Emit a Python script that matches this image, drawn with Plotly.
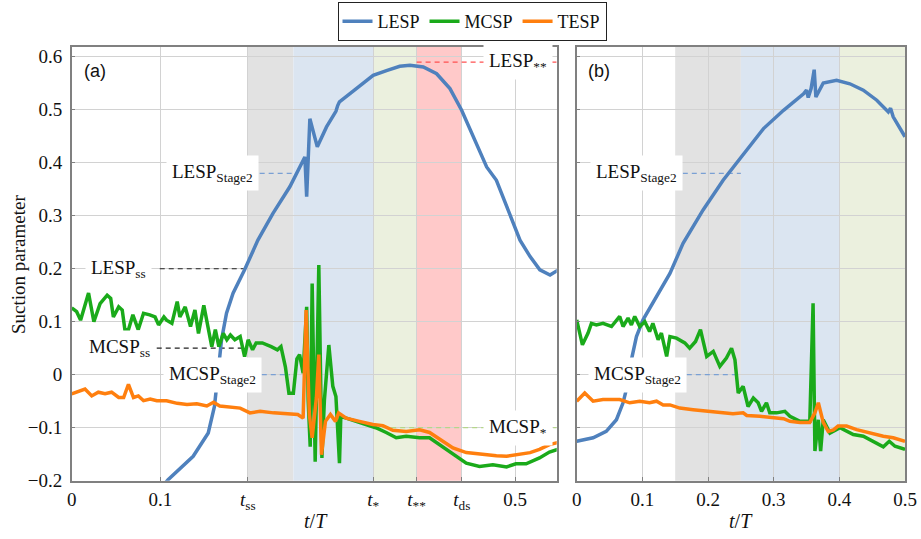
import plotly.graph_objects as go

# ---------------- data ----------------
# Panel (a)
t_lesp_a = [0.07, 0.09, 0.1087, 0.137, 0.154, 0.161, 0.165, 0.169, 0.1746, 0.182, 0.195, 0.210, 0.227,
            0.246, 0.263, 0.265, 0.2686, 0.277, 0.2874, 0.298, 0.300, 0.302, 0.321, 0.340, 0.355, 0.370,
            0.3815, 0.3965, 0.4116, 0.4266, 0.4398, 0.453, 0.468, 0.479, 0.4906, 0.5056, 0.517, 0.528,
            0.5395, 0.549]
lesp_a = [-0.27, -0.235, -0.198, -0.154, -0.110, -0.060, 0.003, 0.066, 0.116, 0.154, 0.198, 0.254, 0.3045,
          0.3546, 0.411, 0.336, 0.483, 0.430, 0.4676, 0.497, 0.508, 0.515, 0.540, 0.565, 0.574, 0.582,
          0.584, 0.5806, 0.568, 0.540, 0.499, 0.449, 0.392, 0.367, 0.317, 0.254, 0.223, 0.198,
          0.188, 0.198]

t_mcsp_a = [0.0, 0.0056, 0.010, 0.019, 0.025, 0.032, 0.040, 0.044, 0.047, 0.053, 0.057, 0.060, 0.064,
            0.069, 0.075, 0.081, 0.088, 0.094, 0.098, 0.104, 0.107, 0.113, 0.119, 0.122, 0.128, 0.134,
            0.139, 0.143, 0.149, 0.153, 0.158, 0.162, 0.166, 0.171, 0.175, 0.179, 0.184, 0.190, 0.195,
            0.199, 0.204, 0.208, 0.215, 0.225, 0.232, 0.236, 0.241, 0.245, 0.250, 0.254, 0.257, 0.261,
            0.265, 0.2667, 0.269, 0.2712, 0.2746, 0.2787, 0.2822, 0.285, 0.290, 0.2945, 0.298, 0.302,
            0.3035, 0.3096, 0.3209, 0.332, 0.343, 0.3547, 0.366, 0.3773, 0.3924, 0.4036, 0.415, 0.430,
            0.445, 0.460, 0.475, 0.4905, 0.501, 0.5125, 0.5276, 0.5388, 0.548]
mcsp_a = [0.126, 0.119, 0.103, 0.154, 0.100, 0.134, 0.150, 0.144, 0.109, 0.128, 0.122, 0.085, 0.085,
          0.113, 0.085, 0.116, 0.113, 0.109, 0.094, 0.109, 0.103, 0.097, 0.138, 0.109, 0.128, 0.091,
          0.122, 0.078, 0.131, 0.094, 0.053, 0.085, 0.053, 0.078, 0.066, 0.075, 0.066, 0.072, 0.034,
          0.066, 0.047, 0.060, 0.060, 0.053, 0.047, 0.053, 0.015, -0.035, -0.035, 0.030, 0.038, 0.003,
          0.128, -0.048, -0.136, 0.172, -0.164, 0.207, -0.157, -0.048, 0.056, -0.022, -0.041, -0.167,
          -0.079, -0.082, -0.088, -0.094, -0.100, -0.109, -0.119, -0.116, -0.119, -0.119, -0.132, -0.151,
          -0.167, -0.173, -0.170, -0.174, -0.168, -0.168, -0.157, -0.146, -0.141]

t_tesp_a = [0.0, 0.0094, 0.015, 0.0226, 0.030, 0.0376, 0.045, 0.053, 0.0586, 0.064, 0.0697, 0.0752, 0.081,
            0.0885, 0.096, 0.107, 0.119, 0.130, 0.1411, 0.1524, 0.160, 0.167, 0.179, 0.190, 0.201, 0.2125,
            0.2276, 0.2426, 0.255, 0.261, 0.2644, 0.268, 0.2712, 0.276, 0.2787, 0.2817, 0.2862, 0.2918,
            0.2975, 0.301, 0.3096, 0.3246, 0.3397, 0.351, 0.3622, 0.3773, 0.3924, 0.4036, 0.415, 0.430,
            0.445, 0.464, 0.479, 0.4905, 0.501, 0.517, 0.5276, 0.5388, 0.548]
tesp_a = [-0.036, -0.030, -0.027, -0.040, -0.033, -0.036, -0.033, -0.043, -0.043, -0.018, -0.043, -0.040,
          -0.049, -0.046, -0.049, -0.049, -0.054, -0.056, -0.055, -0.059, -0.052, -0.059, -0.061, -0.063,
          -0.072, -0.069, -0.072, -0.074, -0.075, -0.082, 0.122, -0.075, -0.119, -0.043, 0.038, -0.151,
          -0.088, -0.075, -0.088, -0.072, -0.082, -0.088, -0.094, -0.096, -0.105, -0.107, -0.104, -0.109,
          -0.121, -0.138, -0.147, -0.151, -0.153, -0.154, -0.151, -0.147, -0.141, -0.132, -0.128]

# Panel (b)
t_lesp_b = [0.0, 0.025, 0.045, 0.0605, 0.0706, 0.078, 0.0833, 0.091, 0.101, 0.122, 0.142, 0.162, 0.1925,
            0.223, 0.254, 0.2845, 0.315, 0.3455, 0.350, 0.3526, 0.357, 0.3617, 0.3643, 0.3755, 0.3958,
            0.416, 0.4365, 0.457, 0.4746, 0.478, 0.482, 0.5]
lesp_b = [-0.1256, -0.119, -0.107, -0.085, -0.053, -0.016, 0.028, 0.072, 0.1036, 0.1475, 0.191, 0.248,
          0.311, 0.367, 0.4175, 0.4645, 0.499, 0.530, 0.537, 0.523, 0.540, 0.5756, 0.524, 0.5506, 0.5556,
          0.549, 0.537, 0.518, 0.496, 0.503, 0.4866, 0.449]

t_mcsp_b = [0.0, 0.0087, 0.0173, 0.0224, 0.030, 0.040, 0.053, 0.0655, 0.0706, 0.0782, 0.0833, 0.0884,
            0.096, 0.1037, 0.111, 0.116, 0.124, 0.129, 0.137, 0.142, 0.152, 0.1646, 0.172, 0.181, 0.1885,
            0.198, 0.208, 0.218, 0.228, 0.2358, 0.241, 0.246, 0.2535, 0.261, 0.269, 0.2764, 0.2815,
            0.289, 0.294, 0.3044, 0.317, 0.3247, 0.340, 0.355, 0.360, 0.3628, 0.368, 0.3715, 0.3755,
            0.3857, 0.401, 0.4212, 0.4365, 0.4517, 0.467, 0.476, 0.4848, 0.5]
mcsp_b = [0.1036, 0.0565, 0.0785, 0.097, 0.094, 0.097, 0.091, 0.110, 0.091, 0.107, 0.094, 0.110,
          0.091, 0.100, 0.0815, 0.097, 0.066, 0.0785, 0.0345, 0.072, 0.069, 0.060, 0.050, 0.0627, 0.085,
          0.0345, 0.044, 0.0157, 0.0314, 0.050, 0.028, -0.0345, -0.022, -0.060, -0.044, -0.053, -0.069,
          -0.053, -0.072, -0.072, -0.069, -0.0785, -0.088, -0.088, 0.135, -0.144, -0.085, -0.144, -0.085,
          -0.110, -0.100, -0.113, -0.116, -0.1256, -0.136, -0.1256, -0.135, -0.141]

t_tesp_b = [0.0, 0.0122, 0.025, 0.040, 0.0655, 0.0808, 0.096, 0.111, 0.1216, 0.1317, 0.142, 0.157,
            0.1773, 0.198, 0.218, 0.238, 0.2535, 0.259, 0.279, 0.299, 0.315, 0.3247, 0.340, 0.355,
            0.3628, 0.368, 0.3755, 0.383, 0.391, 0.398, 0.411, 0.4264, 0.4467, 0.467, 0.482, 0.5]
tesp_b = [-0.050, -0.0345, -0.050, -0.047, -0.047, -0.053, -0.050, -0.053, -0.050, -0.057, -0.057, -0.063,
          -0.066, -0.069, -0.071, -0.0735, -0.072, -0.077, -0.0785, -0.0815, -0.083, -0.088, -0.090, -0.090,
          -0.072, -0.053, -0.090, -0.107, -0.104, -0.097, -0.097, -0.1036, -0.110, -0.116, -0.119, -0.1256]

# Stage boundaries (t/T)
t_ss, t_stage2_a, t_star, t_2star, t_ds = 0.1986, 0.25, 0.340, 0.389, 0.44
bands_b = [0.15, 0.25, 0.40, 0.50]

# Reference levels
LESP_ss, MCSP_ss = 0.2, 0.05
LESP_stage2, MCSP_stage2 = 0.38, 0.0
LESP_2star, MCSP_star = 0.59, -0.1

y_ticks = [0.6, 0.5, 0.4, 0.3, 0.2, 0.1, 0.0, -0.1, -0.2]
y_ticktext = ["0.6", "0.5", "0.4", "0.3", "0.2", "0.1", "0", "\u22120.1", "\u22120.2"]
xa_ticks = [0, 0.1, t_ss, t_star, t_2star, t_ds, 0.5]
xa_ticktext = ["0", "0.1", "<i>t</i><sub>ss</sub>", "<i>t</i><sub>*</sub>", "<i>t</i><sub>**</sub>",
               "<i>t</i><sub>ds</sub>", "0.5"]
xb_ticks = [0, 0.1, 0.2, 0.3, 0.4, 0.5]
xb_ticktext = ["0", "0.1", "0.2", "0.3", "0.4", "0.5"]

# ---------------- style ----------------
C_LESP, C_MCSP, C_TESP = "#4f81bd", "#1aaa1a", "#ff7f0e"
SERIF = "Liberation Serif"
C_GRAY, C_BLUE, C_GREEN, C_RED = "#e2e2e2", "#dbe5f1", "#ebf0de", "#ffc9c9"
LW = 3.5

fig = go.Figure()

def add_series(xs, ys, name, color, xa, ya, show):
    fig.add_trace(go.Scatter(x=xs, y=ys, mode="lines", name=name, legendgroup=name, showlegend=show,
                             line=dict(color=color, width=LW), xaxis=xa, yaxis=ya))

add_series(t_lesp_a, lesp_a, "LESP", C_LESP, "x", "y", True)
add_series(t_mcsp_a, mcsp_a, "MCSP", C_MCSP, "x", "y", True)
add_series(t_tesp_a, tesp_a, "TESP", C_TESP, "x", "y", True)
add_series(t_lesp_b, lesp_b, "LESP", C_LESP, "x2", "y2", False)
add_series(t_mcsp_b, mcsp_b, "MCSP", C_MCSP, "x2", "y2", False)
add_series(t_tesp_b, tesp_b, "TESP", C_TESP, "x2", "y2", False)

shapes = []
def band(x0, x1, color, xref, yref):
    shapes.append(dict(type="rect", xref=xref, yref=yref + " domain", x0=x0, x1=x1, y0=0, y1=1,
                       fillcolor=color, line=dict(width=0), layer="below"))

band(t_ss, t_stage2_a, C_GRAY, "x", "y")
band(t_stage2_a, t_star, C_BLUE, "x", "y")
band(t_star, t_2star, C_GREEN, "x", "y")
band(t_2star, t_ds, C_RED, "x", "y")
band(bands_b[0], bands_b[1], C_GRAY, "x2", "y2")
band(bands_b[1], bands_b[2], C_BLUE, "x2", "y2")
band(bands_b[2], bands_b[3], C_GREEN, "x2", "y2")

def dline(x0, x1, y, color, xref, yref):
    shapes.append(dict(type="line", xref=xref, yref=yref, x0=x0, x1=x1, y0=y, y1=y,
                       line=dict(color=color, width=1.2, dash="5px,4px"), layer="between"))

dline(0.0993, t_ss, LESP_ss, "#222222", "x", "y")
dline(0.0959, 0.195, MCSP_ss, "#222222", "x", "y")
dline(0.212, t_stage2_a, LESP_stage2, "#7aa0d4", "x", "y")
dline(0.2144, 0.246, MCSP_stage2, "#7aa0d4", "x", "y")
dline(t_2star, 0.547, LESP_2star, "#ff5050", "x", "y")
dline(t_star, 0.547, MCSP_star, "#b5d68a", "x", "y")
dline(0.1616, bands_b[1], LESP_stage2, "#7aa0d4", "x2", "y2")
dline(0.1677, 0.243, MCSP_stage2, "#7aa0d4", "x2", "y2")

annots = []
def label(text, x, y, xref, yref, xanchor="right"):
    annots.append(dict(text=text, x=x, y=y, xref=xref, yref=yref, xanchor=xanchor, yanchor="middle",
                       showarrow=False, bgcolor="white", borderpad=5,
                       font=dict(family=SERIF, size=19, color="#111")))

label("LESP<sub>ss</sub>", 0.0903, LESP_ss, "x", "y")
label("MCSP<sub>ss</sub>", 0.0948, MCSP_ss, "x", "y")
label("LESP<sub>Stage2</sub>", 0.211, LESP_stage2, "x", "y")
label("MCSP<sub>Stage2</sub>", 0.2144, MCSP_stage2, "x", "y")
label("LESP<sub>**</sub>", 0.543, LESP_2star, "x", "y")
label("MCSP<sub>*</sub>", 0.543, MCSP_star, "x", "y")
label("LESP<sub>Stage2</sub>", 0.1616, LESP_stage2, "x2", "y2")
label("MCSP<sub>Stage2</sub>", 0.1677, MCSP_stage2, "x2", "y2")

W, H = 921, 539
annots.append(dict(text="(a)", x=82 / W, y=1 - 71 / H, xref="paper", yref="paper", xanchor="left",
                   yanchor="middle", showarrow=False, font=dict(family="Liberation Sans", size=18, color="#111")))
annots.append(dict(text="(b)", x=586 / W, y=1 - 71 / H, xref="paper", yref="paper", xanchor="left",
                   yanchor="middle", showarrow=False, font=dict(family="Liberation Sans", size=18, color="#111")))
annots.append(dict(text="<i>t</i>/<i>T</i>", x=316 / W, y=1 - 521 / H, xref="paper", yref="paper",
                   xanchor="center", yanchor="middle", showarrow=False, font=dict(family=SERIF, size=20, color="#111")))
annots.append(dict(text="<i>t</i>/<i>T</i>", x=741 / W, y=1 - 521 / H, xref="paper", yref="paper",
                   xanchor="center", yanchor="middle", showarrow=False, font=dict(family=SERIF, size=20, color="#111")))
annots.append(dict(text="Suction parameter", x=18 / W, y=1 - 265 / H, xref="paper", yref="paper",
                   xanchor="center", yanchor="middle", textangle=-90, showarrow=False,
                   font=dict(family=SERIF, size=19, color="#111")))

axis_common = dict(showline=True, linecolor="#808080", linewidth=1.5, mirror=True, gridcolor="#d2d2d2",
                   gridwidth=1, zeroline=False, ticks="inside", ticklen=4, tickcolor="#808080",
                   automargin=False, tickfont=dict(family=SERIF, size=19, color="#111"))

ydom = [1 - 480.7 / H, 1 - 46.7 / H]
fig.update_layout(
    width=W, height=H, margin=dict(l=0, r=0, t=0, b=0),
    paper_bgcolor="white", plot_bgcolor="white",
    xaxis=dict(domain=[71.7 / W, 556.7 / W], range=[0, 0.547], tickmode="array", tickvals=xa_ticks,
               ticktext=xa_ticktext, anchor="y", ticklabelstandoff=1, **axis_common),
    yaxis=dict(domain=ydom, range=[-0.2, 0.619], tickmode="array", tickvals=y_ticks, ticktext=y_ticktext,
               anchor="x", ticklabelstandoff=4, **axis_common),
    xaxis2=dict(domain=[576.7 / W, 905 / W], range=[0, 0.5], tickmode="array", tickvals=xb_ticks,
                ticktext=xb_ticktext, anchor="y2", ticklabelstandoff=1, **axis_common),
    yaxis2=dict(domain=ydom, range=[-0.2, 0.619], tickmode="array", tickvals=y_ticks, showticklabels=False,
                anchor="x2", **axis_common),
    shapes=shapes, annotations=annots,
    legend=dict(orientation="h", x=472 / W, y=1 - 2 / H, xanchor="center", yanchor="top",
                bordercolor="#222", borderwidth=1, bgcolor="white", tracegroupgap=0,
                font=dict(family=SERIF, size=18, color="#111")),
    showlegend=True,
)

fig.write_html("out.html")
